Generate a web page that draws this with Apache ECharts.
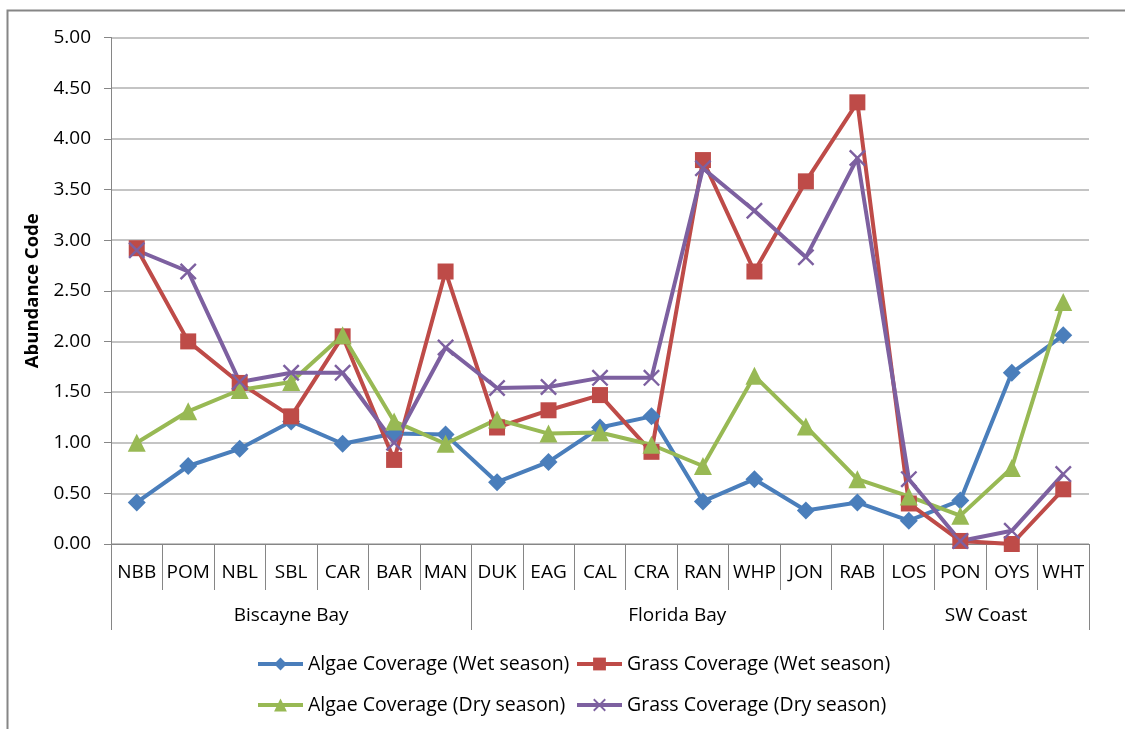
<!DOCTYPE html>
<html>
<head>
<meta charset="utf-8">
<title>Abundance Code by station</title>
<script src="https://cdn.jsdelivr.net/npm/echarts@6/dist/echarts.min.js"></script>
<style>
  html, body { margin: 0; padding: 0; background: #fff; }
  #chart { width: 1125px; height: 729px; }
</style>
</head>
<body>
<div id="chart"></div>
<script>
// station codes along the x axis
const stations = ['NBB', 'POM', 'NBL', 'SBL', 'CAR', 'BAR', 'MAN', 'DUK', 'EAG', 'CAL', 'CRA',
  'RAN', 'WHP', 'JON', 'RAB', 'LOS', 'PON', 'OYS', 'WHT'];

// regions: name and how many stations each spans
const regionNames = ['Biscayne Bay', 'Florida Bay', 'SW Coast'];
const regionSizes = [7, 8, 4];

const yTicks = [0, 0.5, 1, 1.5, 2, 2.5, 3, 3.5, 4, 4.5, 5];

const algaeWet = [0.41, 0.77, 0.94, 1.21, 0.99, 1.09, 1.08, 0.61, 0.81, 1.15, 1.26,
  0.42, 0.64, 0.33, 0.41, 0.23, 0.43, 1.69, 2.06];
const grassWet = [2.92, 2.00, 1.59, 1.26, 2.05, 0.83, 2.69, 1.15, 1.32, 1.47, 0.91,
  3.79, 2.69, 3.58, 4.36, 0.40, 0.03, 0.00, 0.54];
const algaeDry = [1.00, 1.31, 1.52, 1.60, 2.06, 1.21, 0.99, 1.23, 1.09, 1.10, 0.98,
  0.77, 1.66, 1.16, 0.64, 0.47, 0.28, 0.75, 2.39];
const grassDry = [2.90, 2.69, 1.60, 1.69, 1.69, 1.00, 1.94, 1.54, 1.55, 1.64, 1.64,
  3.71, 3.29, 2.83, 3.81, 0.64, 0.03, 0.13, 0.69];

const FONT = 'Open Sans';
const AXIS_GRAY = '#868686';

// group boundaries and label centres on a 0..19 value scale
const bounds = [0];
regionSizes.forEach(n => bounds.push(bounds[bounds.length - 1] + n));
const centres = regionSizes.map((n, i) => bounds[i] + n / 2);

const xMark = 'path://M0,1 L1,0 L10,9 L9,10 Z M9,0 L10,1 L1,10 L0,9 Z';

function lineSeries(name, data, color, symbol, size) {
  return {
    name: name,
    type: 'line',
    data: data,
    symbol: symbol,
    symbolSize: size,
    showAllSymbol: true,
    lineStyle: { color: color, width: 4 },
    itemStyle: { color: color },
    emphasis: { disabled: true },
    z: 3
  };
}

const legendText = { fontFamily: FONT, fontSize: 19.5, color: '#000' };
function legendAt(name, left, top) {
  return {
    data: [name], left: left, top: top, itemWidth: 45, itemHeight: 16,
    itemGap: 4, textStyle: legendText, selectedMode: false,
    lineStyle: { width: 4 }
  };
}

const chart = echarts.init(document.getElementById('chart'));

chart.setOption({
  animation: false,
  backgroundColor: '#fff',
  graphic: [{
    type: 'rect', left: 5, top: 8, shape: { width: 1300, height: 900 },
    style: { fill: 'none', stroke: AXIS_GRAY, lineWidth: 2 }, silent: true
  }],
  grid: { left: 111, right: 36, top: 37.5, bottom: 185, containLabel: false },
  legend: [
    legendAt('Algae Coverage (Wet season)', 251, 649),
    legendAt('Grass Coverage (Wet season)', 570, 649),
    legendAt('Algae Coverage (Dry season)', 251, 690),
    legendAt('Grass Coverage (Dry season)', 570, 690)
  ],
  xAxis: [{
    type: 'category',
    data: stations,
    boundaryGap: true,
    axisLine: { lineStyle: { color: AXIS_GRAY, width: 1 } },
    axisTick: { show: true, interval: 0, length: 46, lineStyle: { color: AXIS_GRAY } },
    axisLabel: { interval: 0, margin: 19, fontFamily: FONT, fontSize: 19, color: '#000' },
    splitLine: { show: false }
  }, {
    type: 'value',
    position: 'bottom',
    min: 0,
    max: stations.length,
    axisLine: { show: false },
    axisTick: { show: true, length: 86, customValues: bounds, lineStyle: { color: AXIS_GRAY } },
    axisLabel: {
      customValues: centres,
      margin: 62,
      fontFamily: FONT, fontSize: 19, color: '#000',
      formatter: v => regionNames[centres.indexOf(v)] || ''
    },
    splitLine: { show: false }
  }],
  yAxis: {
    type: 'value',
    min: yTicks[0],
    max: yTicks[yTicks.length - 1],
    interval: 0.5,
    name: 'Abundance Code',
    nameLocation: 'middle',
    nameGap: 66,
    nameRotate: 90,
    nameTextStyle: { fontFamily: FONT, fontSize: 18.5, fontWeight: 'bold', color: '#000' },
    axisLine: { show: true, lineStyle: { color: AXIS_GRAY, width: 1 } },
    axisTick: { show: true, length: 7, lineStyle: { color: AXIS_GRAY } },
    axisLabel: { margin: 20, fontFamily: FONT, fontSize: 19, color: '#000', formatter: v => v.toFixed(2) },
    splitLine: { lineStyle: { color: '#b0b0b0', width: 1.5 } }
  },
  series: [
    lineSeries('Algae Coverage (Wet season)', algaeWet, '#4a7ebb', 'diamond', 18),
    lineSeries('Grass Coverage (Wet season)', grassWet, '#be4b48', 'rect', 16),
    lineSeries('Algae Coverage (Dry season)', algaeDry, '#98b954', 'triangle', 18),
    lineSeries('Grass Coverage (Dry season)', grassDry, '#7d60a0', xMark, 17)
  ]
});
</script>
</body>
</html>
